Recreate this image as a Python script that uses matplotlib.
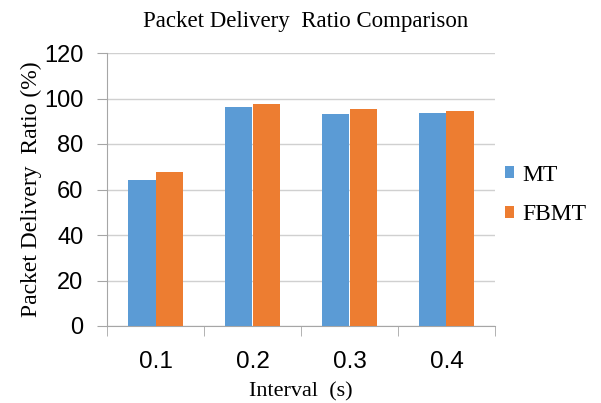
import numpy as np
import matplotlib.pyplot as plt

# packet delivery ratio (%) per send interval
intervals = ['0.1', '0.2', '0.3', '0.4']
mt_pdr = [64.3, 96.2, 93.2, 93.8]
fbmt_pdr = [67.8, 97.4, 95.6, 94.4]

serif = ['Liberation Serif', 'DejaVu Serif']
sans = ['Liberation Sans', 'DejaVu Sans']
grid_col = '#A6A6A6'

fig = plt.figure(figsize=(6.01, 4.03), dpi=100)
ax = fig.add_axes([107 / 601, 1 - 326 / 403, 388 / 601, 273 / 403])

x = np.arange(len(intervals))
w = 0.28
ax.bar(x - w / 2, mt_pdr, w, color='#5B9BD5', label='MT', zorder=3)
ax.bar(x + w / 2, fbmt_pdr, w, color='#ED7D31', label='FBMT', zorder=3)

ax.set_xlim(-0.5, len(intervals) - 0.5)
ax.set_ylim(0, 120)
ax.set_yticks(np.arange(0, 121, 20))
ax.yaxis.grid(True, color='#D0D0D0', linewidth=1, zorder=0)

ax.set_xticks(x)
ax.set_xticklabels(intervals, family=sans, fontsize=17.5)
ax.set_xticks(np.arange(-0.5, len(intervals), 1), minor=True)
ax.tick_params(axis='x', which='major', length=0, pad=18)
ax.tick_params(axis='x', which='minor', length=7, color=grid_col)
ax.tick_params(axis='y', length=7, color=grid_col, labelsize=17, pad=10)
for lbl in ax.get_yticklabels():
    lbl.set_family(sans)

for side in ['top', 'right']:
    ax.spines[side].set_visible(False)
for side in ['left', 'bottom']:
    ax.spines[side].set_color(grid_col)

fig.text(306 / 601, 1 - 22 / 403, 'Packet Delivery  Ratio Comparison',
         family=serif, fontsize=16.5, ha='center', va='center')
ax.set_xlabel('Interval  (s)', family=serif, fontsize=16)
ax.xaxis.set_label_coords(0.5, -0.205)
ax.set_ylabel('Packet Delivery  Ratio (%)', family=serif, fontsize=17)
ax.yaxis.set_label_coords(-0.168, 0.5)

ax.legend(loc='center left', bbox_to_anchor=(505 / 601, 1 - 195 / 403),
          bbox_transform=fig.transFigure, frameon=False,
          prop={'family': serif, 'size': 17}, handlelength=0.4, handleheight=0.4,
          handletextpad=0.35, labelspacing=0.8, borderpad=0, borderaxespad=0)

fig.savefig('out.png', dpi=100)
